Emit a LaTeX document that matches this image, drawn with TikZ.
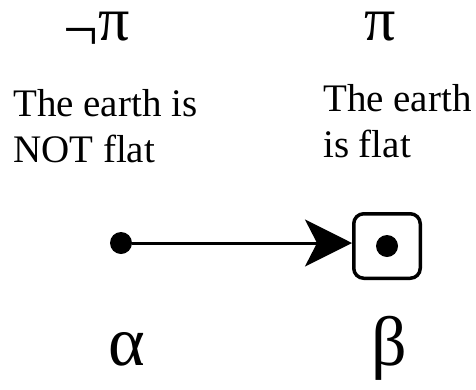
\documentclass[tikz,border=0pt]{standalone}
\usepackage{fontspec}
\setmainfont{Liberation Serif}
\usetikzlibrary{arrows.meta}

\begin{document}
\begin{tikzpicture}[
        x=1pt, y=-1pt,
        sym/.style={font=\fontsize{62}{66}\selectfont, inner sep=0pt, anchor=base},
        greek/.style={font=\fontsize{70}{74}\selectfont, inner sep=0pt, anchor=base},
        txt/.style={font=\fontsize{39}{46}\selectfont, align=left,
                    inner sep=0pt, anchor=north west},
        pt/.style={circle, fill=black, minimum size=22pt, inner sep=0pt},
        world/.style={draw, line width=3.5pt, rounded corners=10pt,
                      minimum width=66.5pt, minimum height=64.5pt, inner sep=0pt},
        arr/.style={-{Stealth[length=47pt, width=47pt, inset=12pt]}, line width=3pt}
      ]
        \useasboundingbox (0,0) rectangle (476,389);

        \node[sym] (notpi) at (97,40) {\raisebox{-10pt}{¬}π};
        \node[sym] (pi) at (380,40) {π};

        \node[txt] (notflat) at (13,89) {The earth is\\NOT flat};
        \node[txt] (flat) at (323,84) {The earth\\is flat};

        \node[pt] (a) at (121,243) {};
        \node[world] (w) at (387,246) {};
        \node[pt] (b) at (w.center) {};

        \draw[arr] (a) -- (a -| w.west);

        \node[greek] (alpha) at (127,365) {α};
        \node[greek] (beta) at (389,365) {β};
      \end{tikzpicture}
\end{document}
